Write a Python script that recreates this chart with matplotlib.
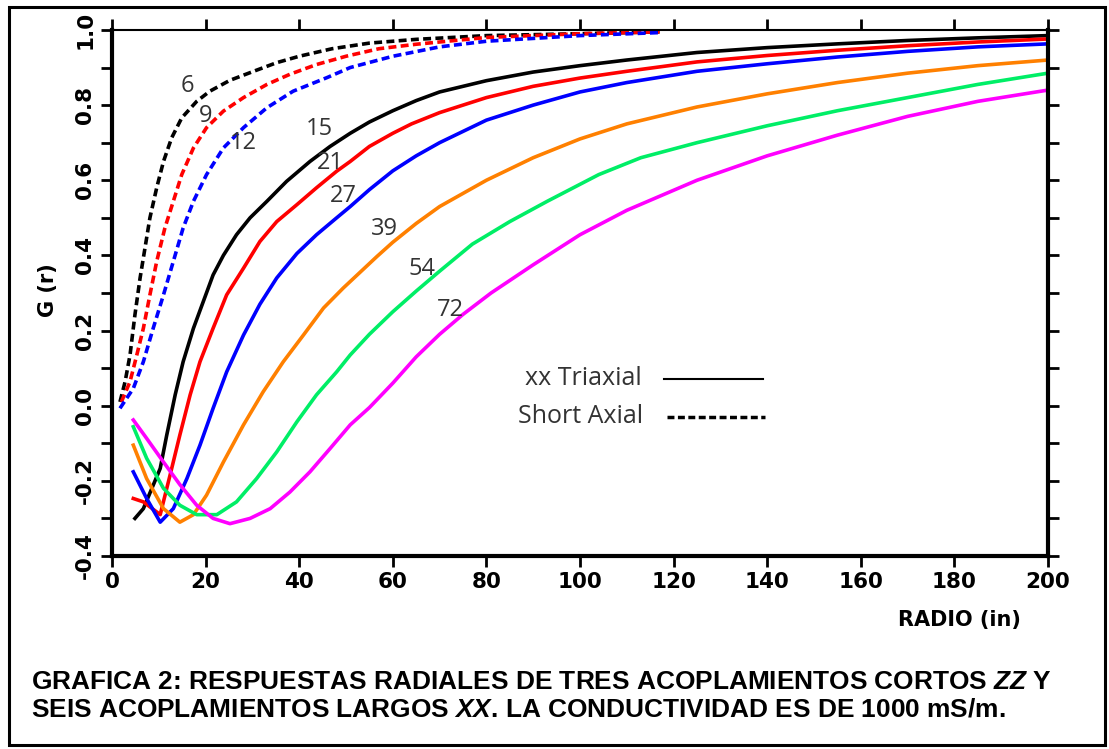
import numpy as np
import matplotlib
matplotlib.use("Agg")
import matplotlib.pyplot as plt
from matplotlib.lines import Line2D
from matplotlib.patches import Rectangle

plt.rcParams["mathtext.fontset"] = "custom"
plt.rcParams["mathtext.rm"] = "Liberation Sans"
plt.rcParams["mathtext.bf"] = "Liberation Sans:bold"
plt.rcParams["mathtext.bfit"] = "Liberation Sans:italic:bold"

# short axial (ZZ) couplings, dashed
x_06 = [1.7, 2.8, 3.85, 4.9, 6.0, 7.05, 8.1, 9.55, 11.0, 12.75, 14.9, 18.1, 20.9, 25.2, 30.9, 35.2,
        40, 47, 55, 65, 80, 100, 117]
y_06 = [0.01, 0.064, 0.135, 0.242, 0.34, 0.42, 0.50, 0.58, 0.65, 0.713, 0.766, 0.81, 0.837, 0.866, 0.893, 0.913,
        0.93, 0.95, 0.965, 0.975, 0.985, 0.99, 0.995]
x_09 = [2.0, 3.85, 5.3, 6.7, 8.1, 9.55, 11.3, 13.1, 14.9, 17.4, 20.2, 23.8, 28.1, 33.1, 38, 43.7,
        50, 57, 65, 80, 100, 117]
y_09 = [0.01, 0.064, 0.135, 0.206, 0.295, 0.384, 0.473, 0.544, 0.615, 0.686, 0.74, 0.784, 0.82, 0.855, 0.882, 0.908,
        0.93, 0.95, 0.962, 0.98, 0.99, 0.995]
x_12 = [1.7, 4.55, 6.7, 8.8, 11.0, 13.1, 15.2, 17.4, 20.2, 23.8, 28.1, 33.1, 38.7, 45.9, 50.9,
        60, 70, 80, 100, 117]
y_12 = [-0.007, 0.046, 0.117, 0.206, 0.295, 0.384, 0.473, 0.544, 0.615, 0.686, 0.74, 0.793, 0.837, 0.873, 0.90,
        0.93, 0.955, 0.97, 0.985, 0.993]

# long triaxial (XX) couplings, solid
x_15 = [4.9, 6.7, 10.3, 11.7, 13.5, 15.2, 17.4, 19.5, 21.6, 23.8, 26.6, 29.5, 33.1, 37.3, 42.3, 46.6, 50.9,
        55, 60, 65, 70, 80, 90, 100, 110, 125, 140, 155, 170, 185, 200]
y_15 = [-0.30, -0.274, -0.167, -0.078, 0.029, 0.117, 0.206, 0.277, 0.348, 0.40, 0.455, 0.50, 0.544, 0.597, 0.65, 0.69, 0.725,
        0.755, 0.785, 0.812, 0.835, 0.865, 0.888, 0.905, 0.92, 0.94, 0.953, 0.963, 0.972, 0.979, 0.985]
x_21 = [4.55, 6.7, 10.3, 12.4, 14.5, 16.7, 18.8, 21.6, 24.5, 28.1, 31.6, 35.2, 39.5, 43.7, 48, 50.9,
        55, 60, 64, 70, 80, 90, 100, 110, 125, 140, 155, 170, 185, 200]
y_21 = [-0.247, -0.256, -0.29, -0.185, -0.078, 0.029, 0.117, 0.206, 0.295, 0.366, 0.437, 0.49, 0.535, 0.58, 0.624, 0.65,
        0.69, 0.725, 0.75, 0.78, 0.82, 0.85, 0.872, 0.89, 0.915, 0.932, 0.946, 0.958, 0.968, 0.976]
x_27 = [4.55, 7.4, 10.3, 13.1, 16, 18.8, 21.6, 24.5, 28.1, 31.6, 35.2, 39.5, 43.7, 48, 50.9,
        55, 60, 65, 70, 80, 90, 100, 110, 125, 140, 155, 170, 185, 200]
y_27 = [-0.176, -0.247, -0.31, -0.274, -0.194, -0.105, -0.007, 0.09, 0.188, 0.27, 0.34, 0.405, 0.455, 0.50, 0.53,
        0.575, 0.625, 0.665, 0.70, 0.76, 0.80, 0.835, 0.86, 0.89, 0.91, 0.928, 0.943, 0.955, 0.963]
x_39 = [4.55, 7.4, 11, 14.5, 17.4, 20.2, 23.8, 28.1, 32.3, 36.6, 40.9, 45.2, 49.4,
        53, 56.6, 60, 65, 70, 80, 90, 100, 110, 125, 140, 155, 170, 185, 200]
y_39 = [-0.105, -0.194, -0.274, -0.31, -0.29, -0.238, -0.15, -0.051, 0.037, 0.117, 0.188, 0.26, 0.313,
        0.355, 0.397, 0.435, 0.485, 0.53, 0.60, 0.66, 0.71, 0.75, 0.795, 0.83, 0.86, 0.885, 0.905, 0.92]
x_54 = [4.55, 7.4, 11, 14.5, 18.1, 22.4, 26.6, 30.9, 35.2, 39.5, 43.7, 48, 50.9,
        55, 60, 65, 70, 77, 85, 93, 104, 113, 125, 140, 155, 170, 185, 200]
y_54 = [-0.056, -0.14, -0.22, -0.265, -0.29, -0.29, -0.256, -0.194, -0.123, -0.043, 0.029, 0.09, 0.135,
        0.19, 0.25, 0.305, 0.358, 0.43, 0.49, 0.544, 0.615, 0.66, 0.70, 0.745, 0.785, 0.82, 0.855, 0.885]
x_72 = [4.55, 7.4, 11, 14.5, 18.1, 21.6, 25.2, 29.5, 33.8, 38, 42.3, 46.6, 50.9,
        55, 60, 65, 70, 75, 81, 90, 100, 110, 125, 140, 155, 170, 185, 200]
y_72 = [-0.038, -0.087, -0.15, -0.21, -0.265, -0.30, -0.314, -0.30, -0.274, -0.23, -0.176, -0.114, -0.051,
        -0.005, 0.06, 0.13, 0.19, 0.243, 0.30, 0.375, 0.455, 0.52, 0.60, 0.665, 0.72, 0.77, 0.81, 0.84]

short_series = [(x_06, y_06, "black"), (x_09, y_09, "#ff0000"), (x_12, y_12, "#0000ff")]
long_series = [(x_15, y_15, "black"), (x_21, y_21, "#ff0000"), (x_27, y_27, "#0000ff"),
               (x_39, y_39, "#ff8000"), (x_54, y_54, "#00ee66"), (x_72, y_72, "#ff00ff")]

curve_labels = ["6", "9", "12", "15", "21", "27", "39", "54", "72"]
label_x = [16.2, 19.9, 28, 44.4, 46.6, 49.4, 58.3, 66.2, 72.2]
label_y = [0.85, 0.77, 0.70, 0.736, 0.645, 0.557, 0.47, 0.365, 0.256]

x_ticks = [0, 20, 40, 60, 80, 100, 120, 140, 160, 180, 200]
y_ticks = [-0.4, -0.2, 0.0, 0.2, 0.4, 0.6, 0.8, 1.0]

caption = ("GRAFICA 2: RESPUESTAS RADIALES DE TRES ACOPLAMIENTOS CORTOS $\\mathbfit{ZZ}$ Y\n"
           "SEIS ACOPLAMIENTOS LARGOS $\\mathbfit{XX}$. LA CONDUCTIVIDAD ES DE 1000 mS/m.")

fig = plt.figure(figsize=(11.09, 7.49), dpi=100)
fig.patches.append(Rectangle((0.008, 0.006), 0.988, 0.985, transform=fig.transFigure,
                             fill=False, edgecolor="black", linewidth=2.2))
ax = fig.add_axes([0.101, 0.2577, 0.844, 0.7023])

for xs, ys, c in short_series:
    ax.plot(xs, ys, color=c, linewidth=2.6, dashes=(2.2, 1.2))
for xs, ys, c in long_series:
    ax.plot(xs, ys, color=c, linewidth=2.6)

for t, lx, ly in zip(curve_labels, label_x, label_y):
    ax.text(lx, ly, t, fontsize=17, color="#333333", ha="center", va="center",
            family="Open Sans")

# legend drawn inside the plot
ax.text(88.2, 0.072, "xx Triaxial", fontsize=18, color="#333333", va="center", family="Open Sans")
ax.text(86.7, -0.03, "Short Axial", fontsize=18, color="#333333", va="center", family="Open Sans")
ax.add_line(Line2D([118, 139], [0.072, 0.072], color="black", linewidth=1.5))
ax.add_line(Line2D([118.5, 139.5], [-0.03, -0.03], color="black", linewidth=2.5, dashes=(2, 1)))

ax.set_xlim(0, 200)
ax.set_ylim(-0.4, 1.0)
ax.set_xticks(x_ticks)
ax.set_yticks(y_ticks)
ax.set_yticks(np.arange(-0.4, 1.01, 0.1), minor=True)
ax.set_xticklabels([str(v) for v in x_ticks], fontsize=15.5, fontweight="bold")
ax.set_yticklabels(["%.1f" % v for v in y_ticks], fontsize=15.5, fontweight="bold",
                   rotation=90, va="center")
ax.tick_params(which="both", direction="out", length=8, width=2,
               top=True, right=True)
ax.tick_params(axis="y", which="major", pad=4)

for side in ["left", "bottom", "right"]:
    ax.spines[side].set_linewidth(3)
ax.spines["top"].set_linewidth(1.5)

fig.text(0.043, 0.612, "G (r)", rotation=90, fontsize=15, fontweight="bold",
         ha="center", va="center")
fig.text(0.865, 0.172, "RADIO (in)", fontsize=15, fontweight="bold",
         ha="center", va="center")
fig.text(0.028, 0.071, caption, fontsize=18.9, fontweight="bold", ha="left",
         va="center", linespacing=1.2, family="Liberation Sans")

fig.savefig("out.png", dpi=100)
